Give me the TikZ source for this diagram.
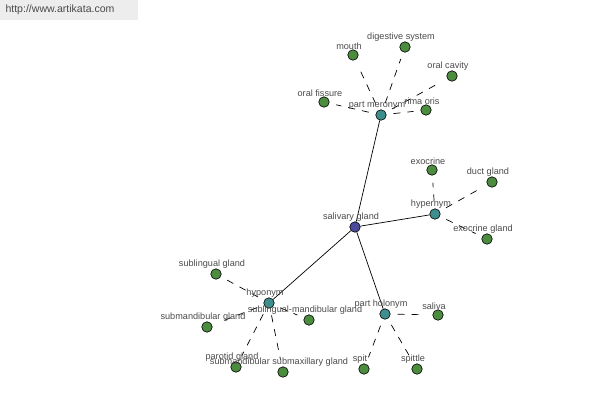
\documentclass[tikz,border=0pt]{standalone}
\usepackage{fontspec}
\setmainfont{Liberation Sans}
\usepackage{tikz}
\usetikzlibrary{positioning}
\usetikzlibrary{backgrounds}

\definecolor{leafgreen}{HTML}{4C8C3E}
\definecolor{reltea}{HTML}{3E8E8E}
\definecolor{rootblue}{HTML}{4A4A9C}
\definecolor{lblgray}{HTML}{4A4A4A}

\begin{document}
\begin{tikzpicture}[
		x=0.02cm, y=-0.02cm,
		lbl/.style={font=\fontsize{5.2}{6}\selectfont, text=lblgray, inner sep=0pt, xshift=-0.08cm},
		dot/.style={circle, draw=black, line width=0.35pt, inner sep=0pt, minimum size=0.21cm, label distance=1.6pt},
		leaf/.style={dot, fill=leafgreen},
		rel/.style={dot, fill=reltea},
		root/.style={dot, fill=rootblue},
		link/.style={line width=0.4pt},
		sub/.style={line width=0.4pt, dash pattern=on 4pt off 4pt, shorten <=4pt, shorten >=4pt}
	]

	\useasboundingbox (0,0) rectangle (600,400);

	% Watermark
	\fill[gray!14] (0,0) rectangle (138,20);
	\node[font=\fontsize{6}{7}\selectfont, text=lblgray, inner sep=0pt] (site) at (60,10) {http://www.artikata.com};

	% Center and relations
	\node[root, label={[lbl]above:salivary gland}] (sg) at (355,227) {};
	\node[rel, label={[lbl]above:part meronym}] (mero) at (381,115) {};
	\node[rel, label={[lbl]above:hypernym}] (hyper) at (435,214) {};
	\node[rel, label={[lbl]above:hyponym}] (hypo) at (269,303) {};
	\node[rel, label={[lbl]above:part holonym}] (holo) at (385,314) {};

	% Part meronym leaves
	\node[leaf, label={[lbl]above:mouth}] (mouth) at (353,55) {};
	\node[leaf, label={[lbl]above:digestive system}] (digest) at (405,47) {};
	\node[leaf, label={[lbl]above:oral cavity}] (cavity) at (452,76) {};
	\node[leaf, label={[lbl]above:oral fissure}] (fissure) at (324,102) {};
	\node[leaf, label={[lbl]above:rima oris}] (rima) at (426,110) {};

	% Hypernym leaves
	\node[leaf, label={[lbl]above:exocrine}] (exo) at (432,170) {};
	\node[leaf, label={[lbl]above:duct gland}] (duct) at (492,182) {};
	\node[leaf, label={[lbl]above:exocrine gland}] (exogl) at (487,239) {};

	% Hyponym leaves
	\node[leaf, label={[lbl]above:sublingual gland}] (subling) at (216,274) {};
	\node[leaf, label={[lbl]above:submandibular gland}] (submand) at (207,327) {};
	\node[leaf, label={[lbl]above:sublingual-mandibular gland}] (sublmand) at (309,320) {};
	\node[leaf, label={[lbl]above:parotid gland}] (parotid) at (236,367) {};
	\node[leaf, label={[lbl]above:submandibular submaxillary gland}] (submax) at (283,372) {};

	% Part holonym leaves
	\node[leaf, label={[lbl]above:saliva}] (saliva) at (438,315) {};
	\node[leaf, label={[lbl]above:spit}] (spit) at (364,369) {};
	\node[leaf, label={[lbl]above:spittle}] (spittle) at (417,369) {};

	% Connectors behind the dots
	\begin{pgfonlayer}{background}
	\foreach \r in {mero,hyper,hypo,holo}
		\draw[link] (sg) -- (\r);

	\foreach \l in {mouth,digest,cavity,fissure,rima}
		\draw[sub] (mero) -- (\l);
	\foreach \l in {exo,duct,exogl}
		\draw[sub] (hyper) -- (\l);
	\foreach \l in {subling,submand,sublmand,parotid,submax}
		\draw[sub] (hypo) -- (\l);
	\foreach \l in {saliva,spit,spittle}
		\draw[sub] (holo) -- (\l);
	\end{pgfonlayer}

\end{tikzpicture}
\end{document}
